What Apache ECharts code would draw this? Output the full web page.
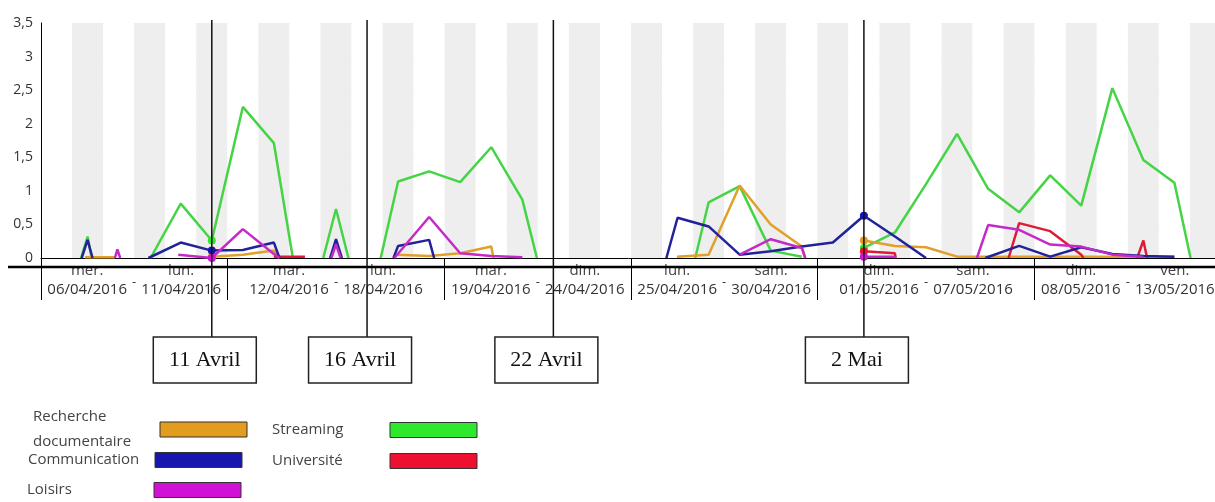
<!DOCTYPE html>
<html>
<head>
<meta charset="utf-8">
<script src="https://cdn.jsdelivr.net/npm/echarts@6/dist/echarts.min.js"></script>
<style>
html, body { margin: 0; padding: 0; background: #fff; }
#chart { width: 1215px; height: 502px; }
</style>
</head>
<body>
<div id="chart"></div>
<script>
// x = days counted from 06/04/2016 (day k covers k..k+1, its centre is k+0.5)
const G = [null, null] // break in a line

const streaming = [
  [1.29, 0], [1.5, 0.32], [1.63, 0], G,
  [3.53, 0], [4.5, 0.81], [5.5, 0.26], [6.5, 2.25], [7.5, 1.71], [8.11, 0], G,
  [9.09, 0], [9.5, 0.73], [9.9, 0], G,
  [10.94, 0], [11.5, 1.14], [12.5, 1.29], [13.5, 1.13], [14.5, 1.65], [15.5, 0.87], [15.97, 0], G,
  [21.07, 0], [21.5, 0.83], [22.5, 1.07], [23.5, 0.11], [24.5, 0.02], G,
  [26.5, 0.15], [27.5, 0.38], [28.5, 1.1], [29.5, 1.85], [30.5, 1.03], [31.5, 0.68],
  [32.5, 1.23], [33.5, 0.78], [34.5, 2.53], [35.5, 1.46], [36.5, 1.12], [37.02, 0]
]
const recherche = [
  [1.42, 0.01], [2.38, 0.01], G,
  [5.5, 0.02], [6.5, 0.05], [7.5, 0.11], [7.68, 0], G,
  [11.46, 0.05], [12.5, 0.03], [13.5, 0.07], [14.5, 0.17], [14.57, 0], G,
  [20.48, 0.02], [21.5, 0.05], [22.5, 1.08], [23.5, 0.5], [24.5, 0.17], [24.61, 0], G,
  [26.5, 0.26], [27.5, 0.18], [28.5, 0.16], [29.5, 0.02], [30.5, 0.02], [31.5, 0.02],
  [32.5, 0.02], [33.5, 0.02], [34.5, 0.02], [35.5, 0.02], [36.5, 0.02]
]
const universite = [
  [7.5, 0.02], [8.5, 0.02], G,
  [26.5, 0.1], [27.5, 0.07], [27.52, 0], G,
  [31.16, 0], [31.5, 0.52], [32.5, 0.4], [33.5, 0.05], [33.57, 0], G,
  [35.3, 0], [35.5, 0.26], [35.62, 0]
]
const communication = [
  [1.31, 0], [1.5, 0.27], [1.66, 0], G,
  [3.46, 0], [4.5, 0.23], [5.5, 0.11], [6.5, 0.12], [7.5, 0.23], [7.68, 0], G,
  [9.31, 0], [9.5, 0.28], [9.69, 0], G,
  [11.35, 0], [11.5, 0.18], [12.5, 0.27], [12.66, 0], G,
  [20.14, 0], [20.5, 0.6], [21.5, 0.47], [22.5, 0.05], [23.5, 0.1], [24.5, 0.17],
  [25.5, 0.23], [26.5, 0.63], [27.5, 0.32], [28.5, 0], G,
  [30.41, 0], [31.5, 0.18], [32.5, 0.02], [33.5, 0.16], [34.5, 0.06], [35.5, 0.03], [36.5, 0.02]
]
const loisirs = [
  [2.38, 0], [2.46, 0.13], [2.55, 0], G,
  [4.42, 0.05], [5.5, 0], [6.5, 0.43], [7.5, 0.06], [7.68, 0], G,
  [9.35, 0], [9.5, 0.2], [9.65, 0], G,
  [11.38, 0], [12.5, 0.61], [13.5, 0.07], [14.5, 0.03], [15.5, 0.01], G,
  [22.5, 0.05], [23.5, 0.28], [24.5, 0.15], [24.61, 0], G,
  [26.5, 0.02], [27.5, 0.02], [27.52, 0], G,
  [30.14, 0], [30.5, 0.49], [31.5, 0.42], [32.5, 0.2], [33.5, 0.17], [34.5, 0.05], [35.5, 0.02]
]

// x axis groups
const groupDays = [6, 7, 6, 6, 7, 6]
const groupFirstDay = ['mer.', 'mar.', 'mar.', 'lun.', 'dim.', 'dim.']
const groupFirstDate = ['06/04/2016', '12/04/2016', '19/04/2016', '25/04/2016', '01/05/2016', '08/05/2016']
const groupLastDay = ['lun.', 'lun.', 'dim.', 'sam.', 'sam.', 'ven.']
const groupLastDate = ['11/04/2016', '18/04/2016', '24/04/2016', '30/04/2016', '07/05/2016', '13/05/2016']

// annotated days
const annotationLabels = ['11 Avril', '16 Avril', '22 Avril', '2 Mai']
const annotationDays = [5.5, 10.5, 16.5, 26.5]

const yMax = 3.5
const yStep = 0.5
const totalDays = groupDays.reduce((a, b) => a + b, 0)

const bounds = [0]
const centers = []
groupDays.forEach(n => {
  const start = bounds[bounds.length - 1]
  centers.push(start + n / 2)
  bounds.push(start + n)
})

const FONT = 'Open Sans'

function lineSeries(name, data, lineColor, fillColor, z) {
  return {
    name: name,
    type: 'line',
    data: data,
    z: z,
    connectNulls: false,
    symbol: 'circle',
    showSymbol: true,
    symbolSize: val => (annotationDays.indexOf(val[0]) >= 0 ? 8 : 0),
    lineStyle: { color: lineColor, width: 2.5 },
    itemStyle: { color: fillColor },
    emphasis: { disabled: true },
    animation: false
  }
}

function legendAt(name, left, top, textWidth) {
  return {
    data: [name],
    left: left,
    top: top,
    orient: 'vertical',
    align: 'right',
    padding: 0,
    icon: 'rect',
    itemWidth: 87,
    itemHeight: 15,
    selectedMode: false,
    itemStyle: { borderColor: '#333', borderWidth: 1 },
    formatter: n => '{a|' + n.replace(' ', '}\n{a|') + '}',
    textStyle: {
      rich: {
        a: { width: textWidth, align: 'left', fontSize: 15, fontFamily: FONT, color: '#444', lineHeight: 25 }
      }
    }
  }
}

const chart = echarts.init(document.getElementById('chart'))

chart.setOption({
  animation: false,
  grid: { left: 41, right: -6, top: 23, bottom: 244, outerBoundsMode: 'none' },
  xAxis: [
    {
      type: 'value',
      min: 0,
      max: totalDays,
      interval: 1,
      axisLine: { show: true, onZero: true, lineStyle: { color: '#000', width: 1 } },
      axisTick: { show: false },
      axisLabel: { show: false },
      splitLine: { show: false },
      splitArea: { show: true, areaStyle: { color: ['#ffffff', '#eeeeee'] } }
    },
    {
      type: 'value',
      min: 0,
      max: totalDays,
      position: 'bottom',
      axisLine: { show: false },
      splitLine: { show: false },
      axisTick: {
        show: true,
        customValues: bounds,
        length: 42,
        lineStyle: { color: '#000', width: 1 }
      },
      axisLabel: {
        show: true,
        customValues: centers,
        margin: 3,
        formatter: v => {
          const i = centers.findIndex(c => Math.abs(c - v) < 1e-6)
          if (i < 0) return ''
          return '{d|' + groupFirstDay[i] + '}{g| }{d|' + groupLastDay[i] + '}\n' +
            '{t|' + groupFirstDate[i] + '}{m|-}{t|' + groupLastDate[i] + '}'
        },
        rich: {
          d: { width: 80, align: 'center', fontSize: 15, fontFamily: FONT, color: '#444', lineHeight: 19 },
          g: { width: 14, align: 'center', fontSize: 15, lineHeight: 19 },
          t: { width: 80, align: 'center', fontSize: 15, fontFamily: FONT, color: '#333', lineHeight: 19 },
          m: { width: 14, align: 'center', fontSize: 13, fontFamily: FONT, color: '#333', verticalAlign: 'top', lineHeight: 4, height: 4 }
        }
      }
    }
  ],
  yAxis: {
    type: 'value',
    min: 0,
    max: yMax,
    interval: yStep,
    axisLine: { show: true, lineStyle: { color: '#000', width: 1 } },
    axisTick: { show: false },
    splitLine: { show: true, lineStyle: { color: '#e4e4e4' } },
    axisLabel: {
      margin: 8,
      fontSize: 14,
      fontFamily: FONT,
      color: '#333',
      formatter: v => String(v).replace('.', ',')
    }
  },
  legend: [
    legendAt('Recherche documentaire', 33, 409.5, 122),
    legendAt('Communication', 28, 452, 122),
    legendAt('Loisirs', 27, 482, 122),
    legendAt('Streaming', 272, 422, 113),
    legendAt('Université', 272, 453, 113)
  ],
  series: [
    lineSeries('Streaming', streaming, '#45D445', '#2EE82E', 2),
    lineSeries('Recherche documentaire', recherche, '#E0A02A', '#E39D1E', 3),
    lineSeries('Université', universite, '#E01A35', '#EE1030', 4),
    lineSeries('Communication', communication, '#222299', '#1717B0', 5),
    lineSeries('Loisirs', loisirs, '#C52AC8', '#D012D6', 6)
  ]
})

// annotation lines and boxes below the axis
const zeroY = chart.convertToPixel({ yAxisIndex: 0 }, 0)
const boxTop = zeroY + 79
const graphics = [
  {
    type: 'line',
    shape: { x1: 8, y1: zeroY + 9, x2: chart.getWidth(), y2: zeroY + 9 },
    style: { stroke: '#000', lineWidth: 2.5 },
    z: 50
  }
]
annotationDays.forEach((d, i) => {
  const x = chart.convertToPixel({ xAxisIndex: 0 }, d)
  graphics.push({
    type: 'line',
    shape: { x1: x, y1: 20, x2: x, y2: boxTop },
    style: { stroke: '#111', lineWidth: 1.5 },
    z: 50
  })
  graphics.push({
    type: 'rect',
    shape: { x: x - 58.5, y: boxTop, width: 103, height: 46 },
    style: { fill: '#fff', stroke: '#222', lineWidth: 1.5 },
    z: 50
  })
  graphics.push({
    type: 'text',
    x: x - 7,
    y: boxTop + 23,
    style: {
      text: annotationLabels[i],
      font: '22px "Liberation Serif"',
      fill: '#111',
      align: 'center',
      verticalAlign: 'middle'
    },
    z: 51
  })
})
chart.setOption({ graphic: graphics })
</script>
</body>
</html>
